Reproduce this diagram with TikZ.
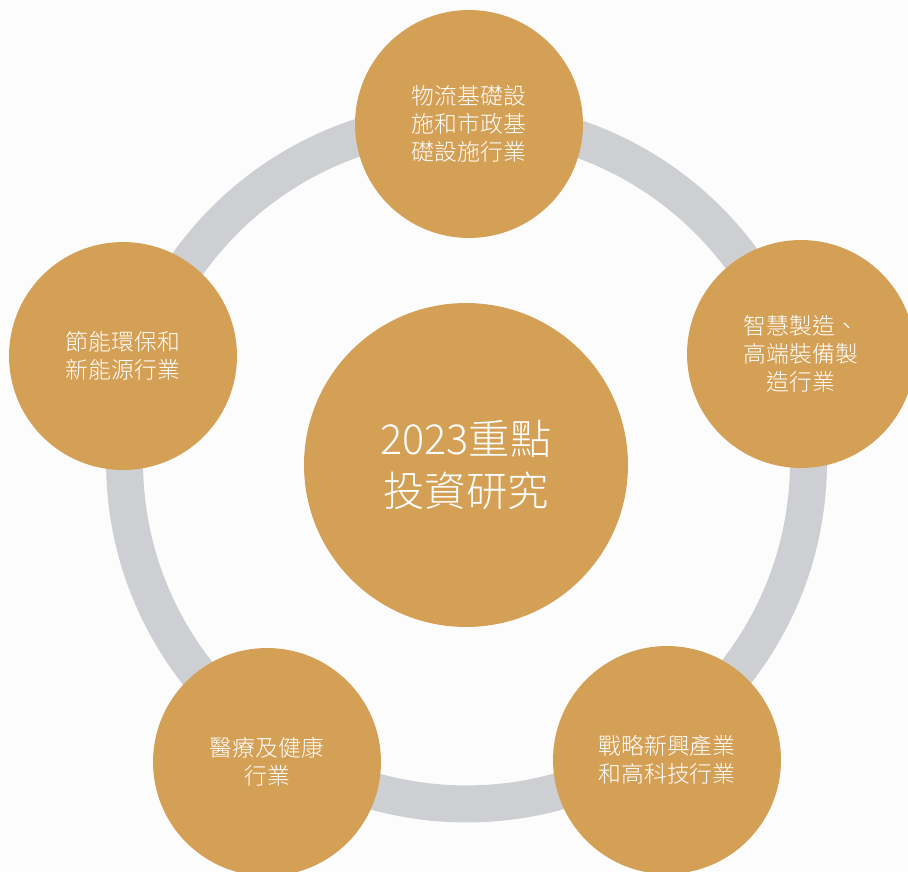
\documentclass[tikz,border=0pt]{standalone}
\usepackage{fontspec}
\setmainfont{Noto Sans CJK TC}[UprightFont={* Light}]

\definecolor{gold}{HTML}{D4A055}
\definecolor{ringgray}{HTML}{CDCFD3}
\definecolor{paper}{HTML}{FCFCFC}

\begin{document}
\begin{tikzpicture}[
    x=0.02cm, y=-0.02cm,
    topic/.style={circle, fill=gold, text=white, align=center, inner sep=0pt, minimum size=4.56cm, font=\fontsize{13pt}{15.9pt}\selectfont},
    hub/.style={topic, minimum size=6.48cm, font=\fontsize{23.5pt}{30pt}\selectfont},
    ring/.style={draw=ringgray, line width=0.74cm}
]

% Background and frame
\fill[paper] (0,0) rectangle (908,871);
\clip (0,0) rectangle (908,871);

% Ring
\coordinate (ringc) at (466.5,462);
\draw[ring] (ringc) circle[radius=6.84cm];

% Nodes
\node[hub] (core) at (466,465) {2023重點\\投資研究};
\node[topic] (logistics) at (469,124) {物流基礎設\\施和市政基\\礎設施行業};
\node[topic] (smart) at (801,354) {智慧製造、\\高端裝備製\\造行業};
\node[topic] (strategic) at (667,760) {戰略新興產業\\和高科技行業};
\node[topic] (medical) at (267,762) {醫療及健康\\行業};
\node[topic] (green) at (123,356) {節能環保和\\新能源行業};

\end{tikzpicture}
\end{document}
